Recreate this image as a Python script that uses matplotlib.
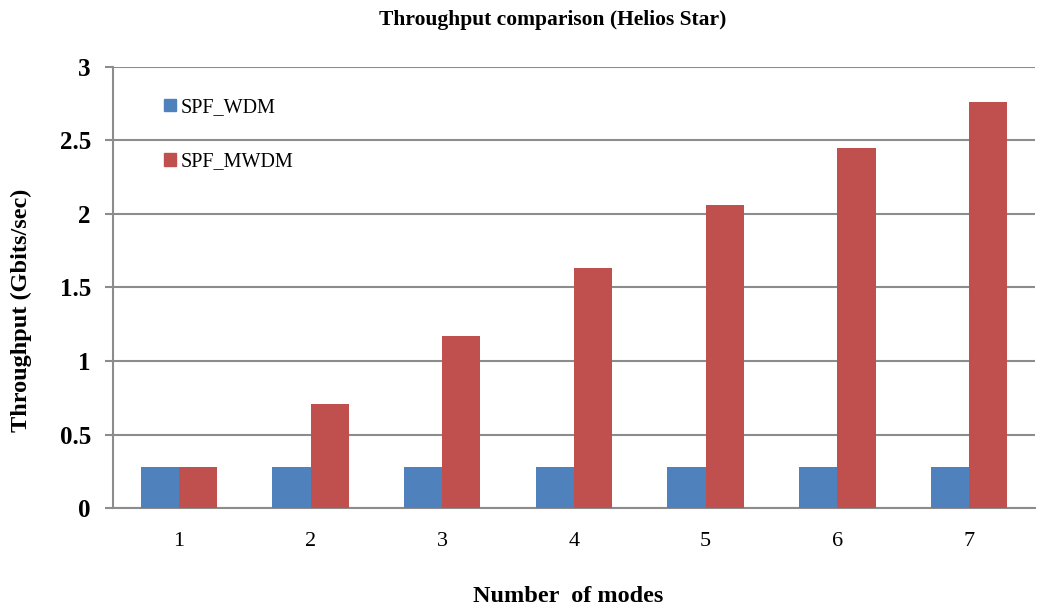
import numpy as np
import matplotlib.pyplot as plt
from matplotlib.patches import Patch

modes = ["1", "2", "3", "4", "5", "6", "7"]
spf_wdm = [0.28, 0.28, 0.28, 0.28, 0.28, 0.28, 0.28]
spf_mwdm = [0.28, 0.71, 1.17, 1.63, 2.06, 2.45, 2.76]

plt.rcParams['font.family'] = ['Liberation Serif', 'DejaVu Serif']

blue = '#4F81BD'
red = '#C0504D'
grid_c = '#8C8C8C'

fig = plt.figure(figsize=(10.37, 6.13), dpi=100)
ax = fig.add_axes([0.109, 0.171, 0.889, 0.72])

x = np.arange(len(modes))
w = 0.29
ax.bar(x - w / 2, spf_wdm, w, color=blue, label='SPF_WDM', zorder=3)
ax.bar(x + w / 2, spf_mwdm, w, color=red, label='SPF_MWDM', zorder=3)

ax.set_xlim(-0.5, len(modes) - 0.5)
ax.set_ylim(0, 3)
ax.set_yticks(np.arange(0, 3.01, 0.5))
ax.set_yticklabels(['0', '0.5', '1', '1.5', '2', '2.5', '3'], fontsize=18, fontweight='bold')
ax.set_xticks(x)
ax.set_xticklabels(modes, fontsize=16)
ax.tick_params(axis='x', length=0, pad=17)
ax.tick_params(axis='y', length=6, width=1.5, color=grid_c, pad=10)
ax.yaxis.grid(True, color=grid_c, linewidth=1.5, zorder=0)

for s in ['top', 'right']:
    ax.spines[s].set_visible(False)
for s in ['left', 'bottom']:
    ax.spines[s].set_color(grid_c)
    ax.spines[s].set_linewidth(1.5)

ax.set_title('Throughput comparison (Helios Star)', fontsize=15.5, fontweight='bold', pad=30, x=0.477)
ax.set_xlabel('Number  of modes', fontsize=17.5, fontweight='bold', labelpad=25, x=0.494)
ax.set_ylabel('Throughput (Gbits/sec)', fontsize=17.5, fontweight='bold', labelpad=20, y=0.449)

handles = [Patch(color=blue), Patch(color=red)]
ax.legend(handles, ['SPF_WDM', 'SPF_MWDM'], loc='upper left', bbox_to_anchor=(0.036, 0.97),
          frameon=False, fontsize=14.5, handlelength=0.6, handleheight=0.6,
          handletextpad=0.2, labelspacing=1.75)

fig.savefig('out.png', dpi=100)
